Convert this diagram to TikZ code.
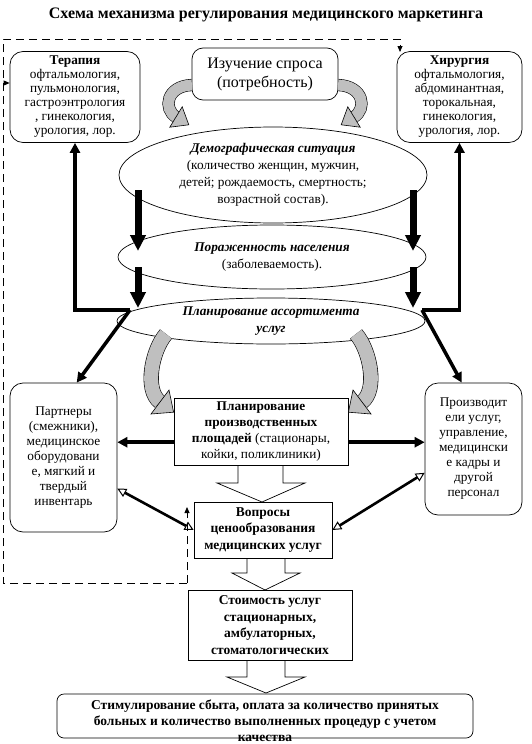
\documentclass[tikz,border=0pt]{standalone}
\usepackage{fontspec}
\setmainfont{Liberation Serif}
\usetikzlibrary{arrows.meta,positioning,shapes.geometric}

\tikzset{
  rbox/.style={draw, rounded corners=13pt, align=center, inner sep=2pt, font=\fontsize{13.3}{14}\selectfont},
  sidebox/.style={rbox, font=\fontsize{13.3}{15}\selectfont},
  sqbox/.style={draw, align=center, inner sep=2pt, font=\bfseries\fontsize{13.5}{16.5}\selectfont},
  oval/.style={draw, ellipse, align=center, inner sep=0pt, font=\fontsize{13.3}{17}\selectfont},
  block/.style={line width=7pt, -{Triangle[length=16pt,width=15pt]}},
  heavy/.style={line width=3.5pt, -{Triangle[length=10pt,width=10pt]}},
  twohead/.style={line width=2.6pt, {Triangle[open,length=9pt,width=9pt,line width=1pt]}-{Triangle[open,length=9pt,width=9pt,line width=1pt]}},
  dashline/.style={dash pattern=on 8pt off 5pt, line width=0.8pt},
  dtip/.style={-{Triangle[length=6pt,width=5pt]}},
  hollow/.style={draw, line width=0.7pt},
  band/.style={draw=black, double=black!25, line width=0.6pt},
  bandhead/.style={draw=black, fill=black!25, line width=0.6pt, line join=miter},
}

\begin{document}
\begin{tikzpicture}[x=1pt, y=-1pt, line width=0.7pt]
\useasboundingbox (0,0) rectangle (532,744);
% title
\node[font=\bfseries\fontsize{16}{19}\selectfont] (title) at (266,15) {Схема механизма регулирования медицинского маркетинга};
% top row
\node[rbox, minimum width=130pt, minimum height=91pt] (ter) at (75,97) {\textbf{Терапия}\\офтальмология,\\пульмонология,\\гастроэнтрология\\, гинекология,\\урология, лор.};
\node[rbox, minimum width=125pt, minimum height=91pt] (hir) at (459.5,97) {\textbf{Хирургия}\\офтальмология,\\абдоминантная,\\торокальная,\\гинекология,\\урология, лор.};
\node[rbox, rounded corners=11pt, minimum width=146pt, minimum height=52pt, font=\fontsize{16}{19}\selectfont] (study) at (265,74) {Изучение спроса\\(потребность)};
% ellipses
\node[oval, minimum width=308pt, minimum height=96pt] (demo) at (273,175) {\textbf{\textit{Демографическая ситуация}}\\(количество женщин, мужчин,\\детей; рождаемость, смертность;\\возрастной состав).};
\node[oval, minimum width=308pt, minimum height=64pt] (ill) at (272,257) {\textbf{\textit{Пораженность населения}}\\(заболеваемость).};
\node[oval, minimum width=308pt, minimum height=46pt] (assort) at (271,321) {\textbf{\textit{Планирование ассортимента}}\\\textbf{\textit{услуг}}};
% middle row
\node[sidebox, minimum width=107pt, minimum height=149pt] (partn) at (63.5,457.5) {Партнеры\\(смежники),\\медицинское\\оборудовани\\е, мягкий и\\твердый\\инвентарь};
\node[sidebox, minimum width=97pt, minimum height=132pt] (prod) at (473.5,449) {Производит\\ели услуг,\\управление,\\медицински\\е кадры и\\другой\\персонал};
\node[draw, align=center, inner sep=2pt, font=\fontsize{13.3}{16}\selectfont, minimum width=174pt, minimum height=67pt] (plan) at (261,431.5) {\textbf{Планирование}\\\textbf{производственных}\\\textbf{площадей} (стационары,\\койки, поликлиники)};
% lower column
\node[sqbox, minimum width=138pt, minimum height=56pt] (price) at (263,530) {Вопросы\\ценообразования\\медицинских услуг};
\node[sqbox, minimum width=164pt, minimum height=70pt] (cost) at (270,625) {Стоимость услуг\\стационарных,\\амбулаторных,\\стоматологических};
\node[draw, rounded corners=7pt, minimum width=416pt, minimum height=44pt] (sales) at (265,716) {};
\node[anchor=north, align=center, inner sep=0pt, font=\bfseries\fontsize{13.5}{16}\selectfont] (salestxt) at (265,699) {Стимулирование сбыта, оплата за количество принятых\\больных и количество выполненных процедур с учетом\\качества};

% gray curved arrows round the demand box
\draw[band, double distance=11pt] (192,85) .. controls (166,86) and (163,109) .. (176,117);
\draw[bandhead] (182.2,106.8) -- (188.8,124.8) -- (169.8,127.2) -- cycle;
\begin{scope}[shift={(530,0)}, xscale=-1]
\draw[band, double distance=11pt] (192,85) .. controls (166,86) and (163,109) .. (176,117);
\draw[bandhead] (182.2,106.8) -- (188.8,124.8) -- (169.8,127.2) -- cycle;
\end{scope}
% gray curved arrows down to the planning box
\draw[band, double distance=14pt] (166,334) .. controls (152,350) and (144,390) .. (160,402);
\draw[bandhead] (169,390) -- (173.6,412.2) -- (151,414) -- cycle;
\begin{scope}[shift={(522,0)}, xscale=-1]
\draw[band, double distance=14pt] (166,334) .. controls (152,350) and (144,390) .. (160,402);
\draw[bandhead] (169,390) -- (173.6,412.2) -- (151,414) -- cycle;
\end{scope}

% black block arrows between the ellipses
\coordinate (demoL) at (138,190);
\coordinate (illLt) at (138,251);
\coordinate (illL) at (138,267);
\coordinate (asL) at (138,308);
\coordinate (demoR) at (413,190);
\coordinate (illRt) at (413,251);
\coordinate (illR) at (413,267);
\coordinate (asR) at (413,308);
\draw[block] (demoL) -- (illLt);
\draw[block] (illL) -- (asL);
\draw[block] (demoR) -- (illRt);
\draw[block] (illR) -- (asR);

% heavy links
\coordinate (asLT) at (130,310);
\coordinate (asRT) at (422,310);
\draw[heavy] (asLT) -| (ter.south);
\draw[heavy] (asRT) -| (hir.south);
\draw[heavy] (asLT) -- (partn.80);
\draw[heavy] (asRT) -- (prod.100);
\draw[heavy] (plan.187) -- (plan.187 -| partn.east);
\draw[heavy] (plan.-7) -- (plan.-7 -| prod.west);
\draw[twohead] (partn.-30) -- (price.west);
\draw[twohead] (prod.206) -- (price.east);

% hollow block arrows
\draw[hollow] (238,465) -- (238,483) -- (217,483) -- (262,502) -- (305,483) -- (283,483) -- (283,465);
\draw[hollow] (247,558) -- (247,573) -- (232,573) -- (265,590) -- (300,573) -- (285,573) -- (285,558);
\draw[hollow] (247,660) -- (247,677) -- (227,677) -- (266,693) -- (305,677) -- (285,677) -- (285,660);

% dashed feedback loop
\coordinate (dashUp) at (187,507);
\coordinate (dashLow) at (187,583);
\coordinate (dashL) at (3,83);
\coordinate (hirIn) at (400,52);
\draw[dashline, dtip] (dashLow) -- (dashUp);
\draw[dashline, dtip] (dashLow) -| (3,39) -| (hirIn);
\draw[dashline, dtip] (dashL) -- (dashL -| ter.west);
\end{tikzpicture}
\end{document}
